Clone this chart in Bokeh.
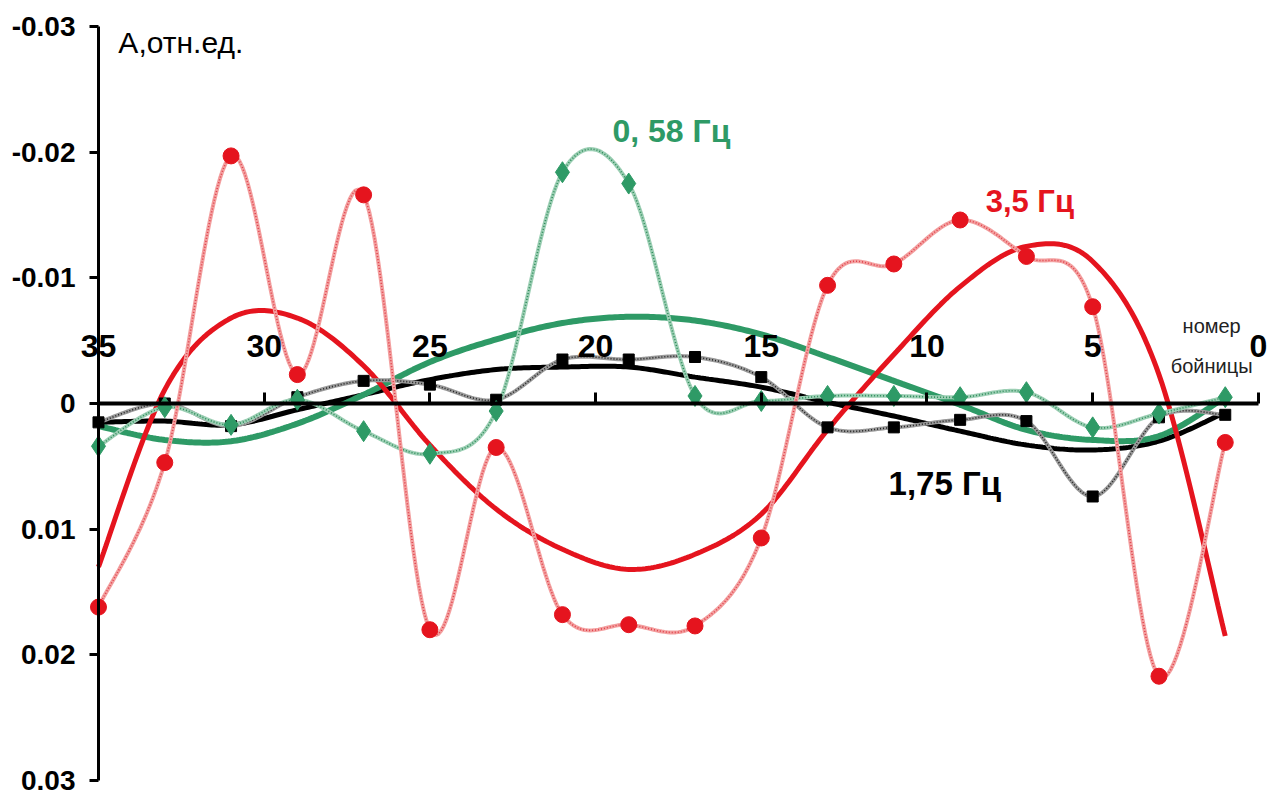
import numpy as np
from bokeh.plotting import figure
from bokeh.models import Range1d, FixedTicker, Label
from bokeh.embed import file_html
from bokeh.resources import INLINE

# ---------------- data ----------------
x_pos = [35, 33, 31, 29, 27, 25, 23, 21, 19, 17, 15, 13, 11, 9, 7, 5, 3, 1]

# 3,5 Hz (red circles)
a_35hz = [0.0162, 0.0047, -0.0197, -0.0023, -0.0166, 0.0180, 0.0035, 0.0168, 0.0176,
          0.0177, 0.0107, -0.0094, -0.0111, -0.0146, -0.0117, -0.0077, 0.0217, 0.0031]
# 1,75 Hz (black squares)
a_175hz = [0.0015, 0.0000, 0.0018, -0.0005, -0.0018, -0.0015, -0.0003, -0.0035, -0.0035,
           -0.0037, -0.0021, 0.0019, 0.0019, 0.0013, 0.0014, 0.0074, 0.0011, 0.0009]
# 0,58 Hz (green diamonds)
a_058hz = [0.0034, 0.0003, 0.0017, -0.0003, 0.0022, 0.0040, 0.0006, -0.0184, -0.0175,
           -0.0006, -0.0002, -0.0006, -0.0006, -0.0005, -0.0009, 0.0019, 0.0008, -0.0005]

# trend curves (thick lines), read at the same positions
trend_35hz = [0.0130, -0.0011, -0.0068, -0.0068, -0.0030, 0.0033, 0.0084, 0.0116, 0.0132,
              0.0120, 0.0088, 0.0021, -0.0039, -0.0093, -0.0125, -0.0113, -0.0023, 0.0185]
trend_175hz = [0.0015, 0.0014, 0.0017, 0.0005, -0.0007, -0.0019, -0.0027, -0.0029, -0.0029,
               -0.0021, -0.0013, -0.0001, 0.0010, 0.0022, 0.0033, 0.0037, 0.0030, 0.0007]
trend_058hz = [0.0018, 0.0029, 0.0030, 0.0016, -0.0007, -0.0033, -0.0051, -0.0064, -0.0069,
               -0.0066, -0.0055, -0.0037, -0.0018, 0.0001, 0.0021, 0.0029, 0.0026, -0.0005]

x_ticks = [35, 30, 25, 20, 15, 10, 5, 0]
y_ticks = [-0.03, -0.02, -0.01, 0, 0.01, 0.02, 0.03]
y_tick_labels = ["-0.03", "-0.02", "-0.01", "0", "0.01", "0.02", "0.03"]

y_title = "А,отн.ед."
x_title = ["номер", "бойницы"]
series_labels = ["3,5 Гц", "1,75 Гц", "0, 58 Гц"]

# ---------------- colours / fonts ----------------
RED = "#E5141E"
GREEN = "#2E9A66"
BLACK = "#000000"
SANS = "'Liberation Sans', Arial, sans-serif"


def smooth(xs, ys, n=24):
    """Catmull-Rom rendering of a smoothed line through the given points."""
    P = np.column_stack([xs, ys]).astype(float)
    P = np.vstack([P[0], P, P[-1]])
    out = []
    t = np.linspace(0, 1, n, endpoint=False)[:, None]
    for i in range(1, len(P) - 2):
        p0, p1, p2, p3 = P[i - 1], P[i], P[i + 1], P[i + 2]
        seg = 0.5 * ((2 * p1) + (-p0 + p2) * t + (2 * p0 - 5 * p1 + 4 * p2 - p3) * t ** 2
                     + (-p0 + 3 * p1 - 3 * p2 + p3) * t ** 3)
        out.append(seg)
    out.append(P[-2][None, :])
    out = np.vstack(out)
    return out[:, 0], out[:, 1]


# ---------------- figure ----------------
p = figure(width=1268, height=796, output_backend="svg", toolbar_location=None,
           x_range=Range1d(37.806, -0.305), y_range=Range1d(0.03127, -0.03111),
           x_axis_location="above", y_axis_location="left",
           min_border_left=5, min_border_right=0, min_border_top=12, min_border_bottom=0)
p.outline_line_color = None
p.xgrid.visible = False
p.ygrid.visible = False
p.background_fill_color = "white"
p.border_fill_color = "white"

# y axis (fixed at x = 35)
ya = p.yaxis[0]
ya.fixed_location = 35
ya.ticker = FixedTicker(ticks=y_ticks)
ya.major_label_overrides = {t: s for t, s in zip(y_ticks, y_tick_labels)}
ya.bounds = (min(y_ticks), max(y_ticks))
ya.axis_line_width = 3
ya.major_tick_line_width = 3
ya.major_tick_out = 9
ya.major_tick_in = 0
ya.minor_tick_line_color = None
ya.major_label_standoff = 14
ya.major_label_text_font = SANS
ya.major_label_text_font_style = "bold"
ya.major_label_text_font_size = "28px"
ya.major_label_text_color = BLACK

# x axis (fixed at y = 0, ticks upwards, labels above)
xa = p.xaxis[0]
xa.fixed_location = 0
xa.ticker = FixedTicker(ticks=x_ticks)
xa.bounds = (min(x_ticks), max(x_ticks))
xa.axis_line_width = 4
xa.major_tick_line_width = 3
xa.major_tick_out = 11
xa.major_tick_in = 0
xa.minor_tick_line_color = None
xa.major_label_standoff = 35
xa.major_label_text_font = SANS
xa.major_label_text_font_style = "bold"
xa.major_label_text_font_size = "32px"
xa.major_label_text_color = BLACK

# ---------------- trend lines ----------------
for ys, col, w in [(trend_175hz, BLACK, 5), (trend_058hz, GREEN, 6), (trend_35hz, RED, 5)]:
    sx, sy = smooth(x_pos, ys)
    p.line(sx, sy, line_color=col, line_width=w)

# ---------------- thin smoothed series lines ----------------
thin = [(a_175hz, "#9a9a9a", "#222222"), (a_058hz, "#9ccfb4", "#2E8B5A"), (a_35hz, "#f3a0a0", "#E0404A")]
for ys, light, dark in thin:
    sx, sy = smooth(x_pos, ys)
    p.line(sx, sy, line_color=light, line_width=4)
    p.line(sx, sy, line_color=dark, line_width=1.6, line_dash="1 2")

# ---------------- markers ----------------
p.scatter(x_pos, a_175hz, marker="square", size=11, fill_color=BLACK, line_color=BLACK)
p.scatter(x_pos, a_058hz, marker="diamond", size=21, fill_color=GREEN, line_color=GREEN)
p.scatter(x_pos, a_35hz, marker="circle", size=16, fill_color=RED, line_color=RED)

# ---------------- texts ----------------
p.add_layout(Label(x=34.4, y=-0.0287, text=y_title, text_font=SANS, text_font_size="30px",
                   text_color=BLACK, text_baseline="middle", text_align="left"))
p.add_layout(Label(x=1.41, y=-0.0062, text=x_title[0], text_font=SANS, text_font_size="20px",
                   text_color="#222222", text_baseline="middle", text_align="center"))
p.add_layout(Label(x=1.41, y=-0.0030, text=x_title[1], text_font=SANS, text_font_size="20px",
                   text_color="#222222", text_baseline="middle", text_align="center"))
p.add_layout(Label(x=8.23, y=-0.0161, text=series_labels[0], text_font=SANS, text_font_style="bold",
                   text_font_size="31px", text_color=RED, text_baseline="middle", text_align="left"))
p.add_layout(Label(x=11.16, y=0.0064, text=series_labels[1], text_font=SANS, text_font_style="bold",
                   text_font_size="33px", text_color=BLACK, text_baseline="middle", text_align="left"))
p.add_layout(Label(x=19.49, y=-0.0217, text=series_labels[2], text_font=SANS, text_font_style="bold",
                   text_font_size="32px", text_color=GREEN, text_baseline="middle", text_align="left"))

open("out.html", "w").write(file_html(p, INLINE))
